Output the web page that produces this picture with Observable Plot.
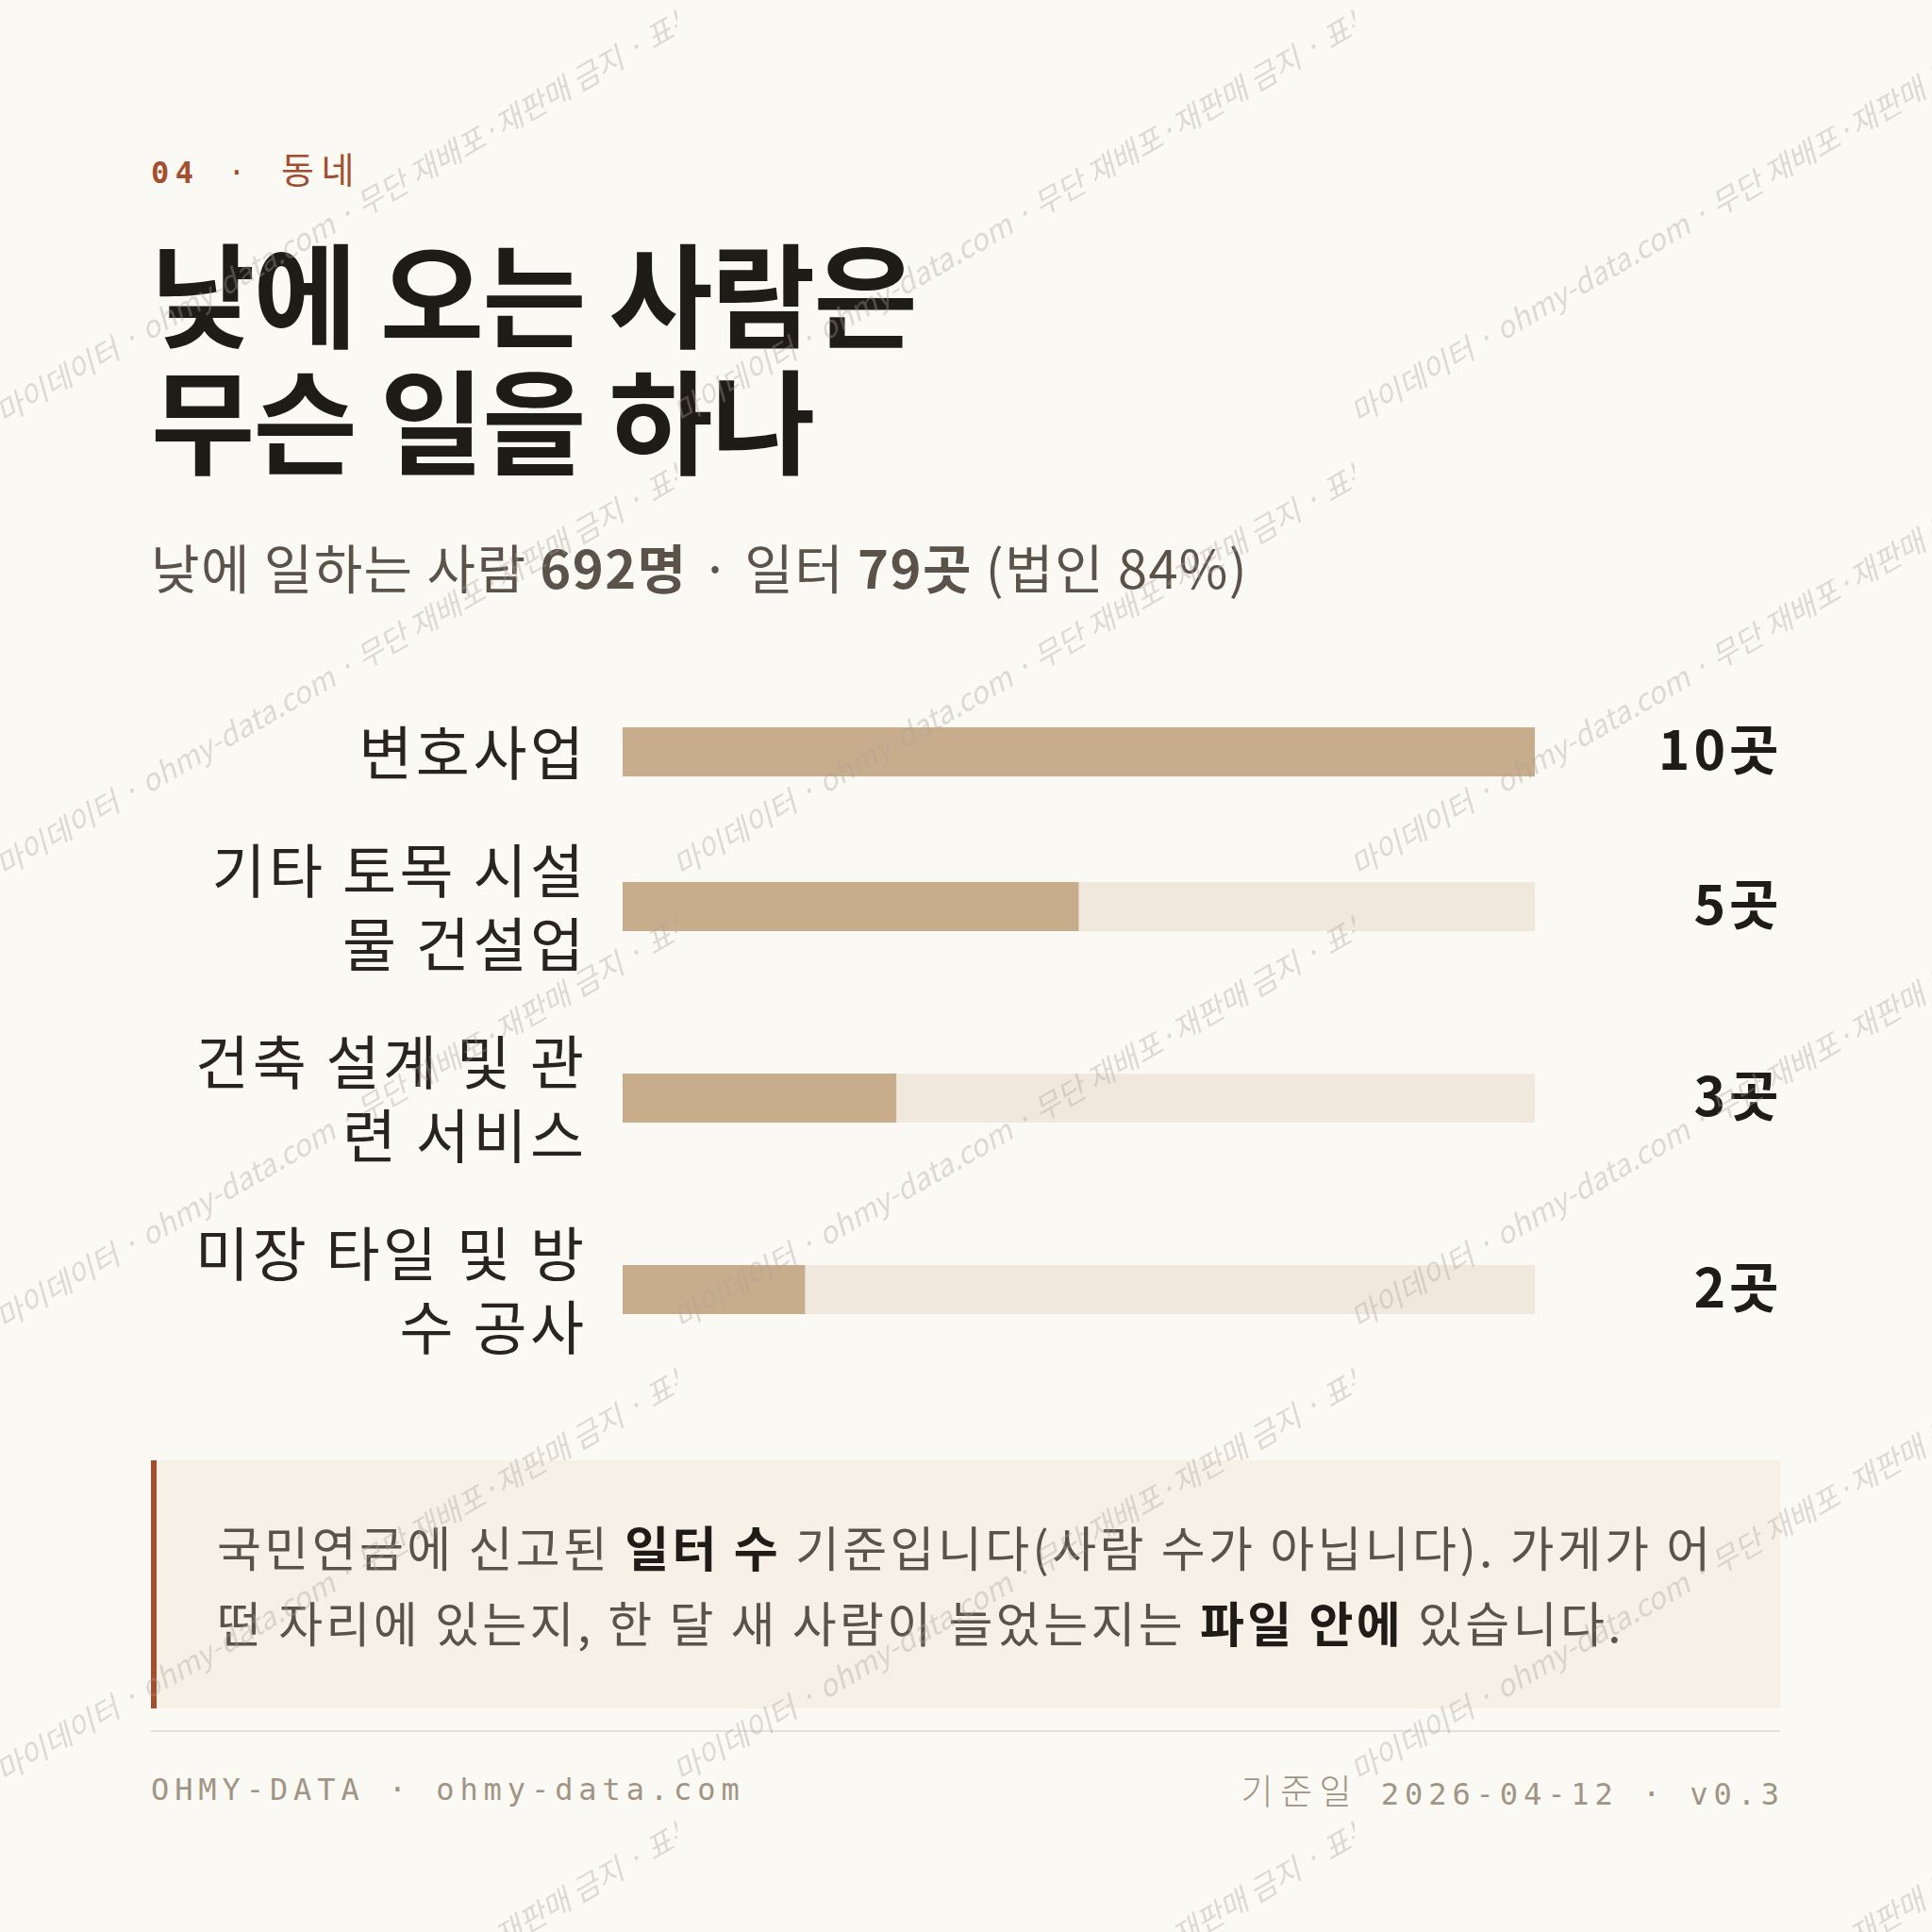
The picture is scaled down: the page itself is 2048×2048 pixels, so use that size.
<!DOCTYPE html>
<html><head><meta charset="utf-8">
<script src="https://cdn.jsdelivr.net/npm/d3@7"></script>
<script src="https://cdn.jsdelivr.net/npm/@observablehq/plot@0.6"></script>
<style>
html,body{margin:0;padding:0;background:#fbf9f4;}
body{width:2048px;height:2048px;position:relative;overflow:hidden;font-family:"Noto Sans CJK KR","Noto Sans",sans-serif;}
.abs{position:absolute;left:160px;}
#kicker{top:160px;font-family:"DejaVu Sans Mono",monospace;font-size:32px;line-height:36px;color:#a34e2e;letter-spacing:0.2em;white-space:nowrap;}
#kicker b{font-weight:700;}
#kicker .dot{margin-left:30px;}
#kicker .ko{font-family:"Noto Sans CJK KR",sans-serif;font-size:38px;letter-spacing:0.2em;margin-left:31px;}
#title{top:241px;font-size:120px;line-height:134px;font-weight:700;color:#1f1b17;letter-spacing:-0.015em;white-space:nowrap;margin:0;}
#subtitle{top:566px;font-size:56px;line-height:67px;color:#5b5249;letter-spacing:0.025em;white-space:nowrap;}
#subtitle b{font-weight:700;}
#chart{top:758px;width:1728px;}
#chart .row{margin-bottom:47px;line-height:0;}
#chart svg{overflow:visible;display:block;}
#note{top:1548px;width:1727px;height:263px;box-sizing:border-box;background:#f6f0e7;border-left:6px solid #a34e2e;padding:51px 0 0 64px;font-size:51px;line-height:80px;color:#5b5249;letter-spacing:3.4px;white-space:nowrap;}
#note b{color:#1f1b17;font-weight:700;}
#rule{top:1834px;width:1727px;height:2px;background:#e6dfd3;}
.foot{top:1879px;font-family:"DejaVu Sans Mono",monospace;font-size:32px;line-height:36px;color:#a09585;letter-spacing:0.185em;white-space:nowrap;}
#footR{left:auto;right:156px;}
#footR .ko{font-family:"Noto Sans CJK KR",sans-serif;font-size:37px;font-weight:300;letter-spacing:0.2em;margin-right:24px;}
#wm{position:absolute;left:0;top:0;pointer-events:none;z-index:10;}
</style></head>
<body>
<div id="kicker" class="abs"><b>04</b><span class="dot">·</span><span class="ko">동네</span></div>
<h1 id="title" class="abs">낮에 오는 사람은<br>무슨 일을 하나</h1>
<div id="subtitle" class="abs">낮에 일하는 사람 <b>692명</b> · 일터 <b>79곳</b> (법인 84%)</div>
<div id="chart" class="abs"></div>
<div id="note" class="abs">국민연금에 신고된 <b>일터 수</b> 기준입니다(사람 수가 아닙니다). 가게가 어<br>떤 자리에 있는지, 한 달 새 사람이 늘었는지는 <b>파일 안에</b> 있습니다.</div>
<div id="rule" class="abs"></div>
<div id="footL" class="abs foot">OHMY-DATA · ohmy-data.com</div>
<div id="footR" class="abs foot"><span class="ko">기준일</span>2026-04-12 · v0.3</div>
<svg id="wm" width="2048" height="2048"><defs><pattern id="wmp" patternUnits="userSpaceOnUse" x="0" y="0" width="718" height="480"><text x="4" y="450" transform="rotate(-30 4 450)" font-size="31.5" font-style="italic" font-family="Noto Sans CJK KR, sans-serif" fill="#aaa196" fill-opacity="0.36">마이데이터 · ohmy-data.com · 무단 재배포·재판매 금지 · 표본 데이터</text></pattern></defs><rect width="2048" height="2048" fill="url(#wmp)"/></svg>
<script>
const categories = ["변호사업", "기타 토목 시설물 건설업", "건축 설계 및 관련 서비스", "미장 타일 및 방수 공사"];
const labelLines = [["변호사업"], ["기타 토목 시설", "물 건설업"], ["건축 설계 및 관", "련 서비스"], ["미장 타일 및 방", "수 공사"]];
const counts = [10, 5, 3, 2];
const unit = "곳";

const maxCount = d3.max(counts);
const rows = categories.map((c, i) => ({category: c, label: labelLines[i].join("\n"), lines: labelLines[i].length, value: counts[i], max: maxCount}));
const chart = document.getElementById("chart");
const lineH = 78, barH = 52, labelSize = 62;
for (const r of rows) {
  const h = r.lines * lineH;
  const inset = (h - barH) / 2;
  const p = Plot.plot({
    width: 1728, height: h,
    marginLeft: 500, marginRight: 261, marginTop: 0, marginBottom: 0,
    x: {domain: [0, maxCount], axis: null},
    style: {background: "transparent", fontFamily: "'Noto Sans CJK KR', sans-serif", overflow: "visible"},
    marks: [
      Plot.barX([r], {x1: 0, x2: "max", fill: "#f0e8dc", insetTop: inset, insetBottom: inset}),
      Plot.barX([r], {x1: 0, x2: "value", fill: "#c8ad8d", insetTop: inset, insetBottom: inset}),
      Plot.text([r], {frameAnchor: "left", text: "label", textAnchor: "end", dx: -38, fontSize: labelSize, lineHeight: lineH / labelSize, fill: "#2a241e"}),
      Plot.text([r], {frameAnchor: "right", text: d => d.value + unit, textAnchor: "end", dx: 262, fontSize: 57, fontWeight: 700, fill: "#1f1b17"})
    ]
  });
  const texts = p.querySelectorAll('g[aria-label="text"]');
  if (texts[0]) texts[0].style.letterSpacing = "3.5px";
  if (texts[1]) texts[1].style.letterSpacing = "4px";
  const div = document.createElement("div");
  div.className = "row";
  div.appendChild(p);
  chart.appendChild(div);
}
</script>
</body></html>
